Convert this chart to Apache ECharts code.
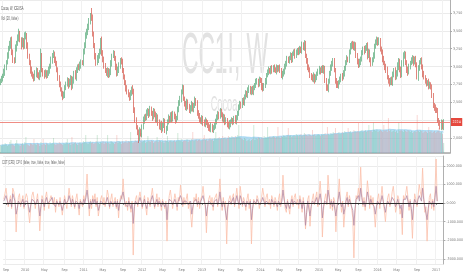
<!DOCTYPE html>
<html><head><meta charset="utf-8">
<script src="https://cdn.jsdelivr.net/npm/echarts@6/dist/echarts.min.js"></script>
<style>html,body{margin:0;padding:0;background:#fff}#c{width:466px;height:275px}</style>
</head><body><div id="c"></div>
<script>
// ---- data (weekly bars starting 2009-08-24) ----
const startDate = [2009, 7, 24];
const futureWeeks = 5;
const firstOpen = 2780;
const closes = [
2800,2830,2870,2920,2990,3060,3150,3250,3300,3370,
3200,3100,3080,3250,3320,3400,3460,3380,3300,3360,
3280,3420,3440,3300,3150,3050,2950,2900,2860,2830,
2900,2950,2880,2850,2900,3150,2950,2900,2880,2920,
2870,2910,2950,3000,3080,3150,3180,3100,3050,2950,
2850,2750,2680,2620,2580,2600,2700,2760,2800,2740,
2780,2840,2720,2800,2900,2850,2950,3000,2980,3020,
3060,3050,3200,3300,3420,3480,3560,3620,3700,3680,
3450,3300,3150,3050,3100,3150,3200,3380,3200,3100,
3000,2950,2900,2950,2880,2920,3050,3150,3180,3120,
3000,2900,2950,3020,3090,3060,2950,2850,2780,2700,
2650,2600,2570,2620,2680,2650,2400,2250,2150,2080,
2000,2100,2050,2150,2250,2300,2280,2350,2380,2330,
2400,2350,2290,2380,2330,2250,2300,2220,2150,2200,
2120,2180,2230,2100,2140,2220,2280,2250,2320,2260,
2340,2300,2250,2280,2400,2480,2550,2650,2700,2550,
2480,2420,2500,2450,2380,2420,2470,2400,2450,2520,
2500,2350,2300,2260,2230,2280,2220,2190,2240,2210,
2180,2150,2120,2170,2110,2140,2180,2230,2280,2340,
2300,2370,2330,2260,2300,2220,2250,2190,2160,2200,
2230,
2250,2220,2270,2240,2280,2350,2420,2480,2450,2520,
2500,2580,2630,2600,2660,2700,2650,2680,2640,2700,
2740,2780,2800,2760,2820,2800,2720,2690,2740,2800,
2880,2920,2950,2930,2970,2950,2990,2960,2940,2980,
2960,2990,2950,2870,2900,2920,3000,3050,3100,3080,
3120,3150,3100,3180,3200,3150,3210,3220,3200,3250,
3230,3300,3260,3320,3150,3080,3000,2950,2880,2850,
2820,2870,2810,2850,2900,2930,2960,2940,2970,2950,
2980,2800,2700,2690,2800,2900,2980,3050,3080,2950,
2800,2750,2730,2780,2820,2870,2850,2900,2980,3050,
3110,3100,3200,3280,3320,3300,3260,3310,3150,3080,
3020,3060,3100,3200,3240,3220,3260,3300,3150,3200,
3100,3050,3090,3150,3280,3350,3380,3330,3360,3250,
3200,3100,3050,3000,2950,2850,2800,2770,2820,2780,
2880,2950,2850,2900,3000,3080,2950,2880,3050,3150,
3180,3050,2950,2920,3000,3050,3080,3120,3060,3100,
3030,2850,2980,3060,3080,3000,2900,2850,2800,2760,
2780,2730,2750,2710,2600,2450,2420,2400,2380,2250,
2200,2160,2220,2150,2224];
const wickUp = [
30,40,30,50,40,30,50,40,60,40, 50,40,30,60,40,50,70,40,30,50,
40,60,50,30,40,30,40,50,30,40, 50,40,30,40,50,100,40,30,50,40,
30,40,50,40,60,40,50,30,40,30, 40,30,40,30,40,50,40,30,50,40,
50,40,30,60,40,50,40,30,40,50, 40,30,50,40,60,50,40,60,50,120,
50,40,30,40,60,40,50,20,40,30, 40,50,30,40,30,50,40,30,50,40,
30,40,50,40,30,40,50,30,40,30, 40,30,40,50,40,60,40,30,40,30,
40,50,30,40,50,30,40,50,40,30, 50,40,30,40,30,40,50,30,40,30,
40,30,50,40,30,40,50,30,40,50, 40,30,40,30,40,50,40,30,50,40,
30,40,50,40,30,40,50,30,40,60, 40,30,40,50,30,40,30,40,50,30,
40,30,40,50,30,40,30,40,50,40, 30,50,40,30,40,30,40,30,40,50,
30,40,30,40,50,40,30,50,40,30, 40,50,30,40,30,50,40,30,40,50,
40,30,50,40,30,40,30,40,50,30, 40,30,40,50,30,40,50,30,40,30,
50,40,30,40,30,40,50,40,30,50, 40,30,50,40,30,40,50,30,40,50,
40,30,50,40,50,40,30,40,30,40, 30,40,50,30,40,30,40,50,30,40,
50,40,30,40,50,30,40,50,30,40, 40,30,40,50,30,40,30,40,50,30,
40,50,30,40,50,30,40,50,40,30, 40,30,50,40,30,40,50,40,30,40,
50,40,30,40,50,40,30,40,30,50, 40,30,40,50,30,40,50,30,40,30,
40,50,30,40,50,60,40,30,50,40, 50,40,30,40,50,40,30,50,40,30,
40,50,30,40,30,40,50,30,40,30, 40,30,50,40,30,40,30,40,50,30,
40,30,50,40,30,40];
const wickDown = [
40,30,40,30,50,40,30,40,30,50, 40,50,40,30,40,30,50,40,60,30,
40,30,40,50,40,30,50,40,30,40, 30,50,40,30,40,50,30,40,50,30,
40,30,40,50,30,40,30,50,40,30, 50,40,30,40,50,30,40,30,40,50,
30,40,50,30,40,30,50,40,30,40, 50,30,40,30,40,30,40,50,30,40,
30,40,50,40,30,50,40,30,50,40, 30,40,30,50,40,30,40,50,30,40,
50,40,30,40,50,30,40,30,40,50, 40,30,50,40,30,40,50,40,30,40,
70,40,30,40,30,50,40,30,40,50, 30,40,50,30,40,30,40,50,30,40,
50,30,40,30,50,40,30,40,30,40, 30,40,50,40,30,40,30,50,40,30,
40,30,40,50,30,40,50,30,40,30, 50,40,30,40,30,40,50,30,40,30,
40,50,30,40,30,40,30,50,40,30, 40,30,40,30,50,40,30,40,30,40,
50,30,40,30,40,50,30,40,30,40, 30,40,50,40,30,40,30,40,50,30,
40,30,40,30,50,40,30,50,40,30, 40,50,30,40,30,40,50,30,40,30,
50,40,30,40,30,50,40,30,40,50, 30,40,30,50,40,30,40,30,50,40,
30,40,50,30,40,30,40,50,30,40, 40,30,40,50,30,40,30,40,50,30,
40,50,30,40,30,50,40,30,40,50, 30,40,50,30,40,30,40,50,30,40,
40,30,40,50,30,40,50,30,40,30, 50,40,30,40,30,40,50,30,40,50,
30,40,50,40,30,40,30,50,40,30, 40,30,40,30,50,40,30,40,50,30,
40,50,30,40,30,40,50,30,40,30, 50,40,30,40,50,30,40,30,40,50,
30,40,30,50,40,30,40,50,30,40, 40,30,50,40,30,40,30,40,50,30,
40,30,40,50,30,40];
const volumes = [
8,7,9,8,10,9,7,8,11,13, 9,8,7,10,13,9,8,7,9,10,
8,11,16,9,8,7,10,9,8,14, 9,8,10,9,7,11,8,14,9,8,
10,9,8,11,9,10,15,9,8,10, 9,11,10,9,8,10,9,11,14,9,
10,8,16,9,10,11,9,8,10,11, 9,10,12,11,18,10,9,11,12,10,
11,9,10,12,18,10,9,11,10,12, 9,11,10,18,10,9,12,11,10,9,
11,18,10,12,11,9,12,10,11,13, 10,12,11,21,12,10,11,13,12,11,
12,10,20,11,12,13,10,11,17,12, 11,13,12,10,11,12,16,11,13,12,
11,12,10,13,12,17,11,12,13,11, 12,13,11,12,20,13,12,14,11,12,
13,12,14,11,13,12,14,21,12,13, 14,12,13,14,12,13,15,18,13,14,
12,14,15,13,14,12,15,21,14,15, 16,14,15,17,15,16,14,15,17,16,
15,17,16,15,17,16,18,28,16,15, 14,13,15,14,12,13,14,12,13,14,
28,13,15,14,16,15,14,16,15,17, 16,15,26,16,17,15,16,17,16,15,
17,26,16,15,17,16,18,17,16,18, 25,17,18,16,17,18,17,19,18,17,
18,19,17,18,20,19,18,17,19,18, 17,23,18,19,17,18,19,18,17,19,
18,19,20,18,26,19,18,20,19,21, 20,25,19,20,21,19,20,21,20,22,
21,20,25,21,22,20,21,23,22,21, 22,30,21,22,23,21,22,23,21,22,
28,22,23,21,31,23,22,24,21,22, 23,22,21,28,22,23,21,35,22,23,
21,22,23,21,22,20,31,22,23,22, 21,23,22,21,23,22,21,22,20,21,
22,21,38,22,21,23,22,20,21,22, 21,20,26,21,22,20,21,22,20,21,
22,25,20,21,19,10];
const cotOrange = [
200,500,800,300,-200,100,400,-300,800,600, 200,-1560,-400,300,500,-200,100,400,-300,200,
500,300,-500,-1070,-200,400,600,200,-300,100, 500,-200,-1500,-300,400,200,-400,300,600,100,
-300,200,400,500,-100,300,-500,200,100,-200, 300,-100,-650,-200,400,100,-300,200,800,300,
-200,400,100,-300,200,500,-100,-650,200,300, -200,400,100,600,1560,300,-700,200,-300,400,
100,500,-200,300,-700,-300,200,400,-100,300, -200,100,700,400,-300,200,500,-200,100,300,
-300,200,-800,100,400,200,1300,300,-200,100, -400,300,200,-500,100,-2800,-300,200,400,-200,
300,600,200,-300,100,400,-200,-650,300,100, -200,400,800,200,-300,100,500,-200,300,100,
-400,200,300,-300,100,-2050,-200,400,700,200, -300,100,500,200,-400,300,100,970,400,-200,
300,-100,200,500,-300,100,200,-1300,-400,300, 100,500,-200,300,-300,200,400,900,300,-200,
-1600,-300,200,400,-100,300,-400,200,100,500, -200,300,1300,200,-400,300,-200,100,-2200,-300,
200,400,-100,300,500,-200,300,800,200,-300, 900,400,-200,300,100,-400,200,500,-300,200,
-2200,-400,200,300,-100,400,200,-300,100,300, 800,400,-200,300,500,-100,200,-300,400,200,
-200,300,100,-400,200,500,-200,300,1500,400, -300,-500,200,300,-600,100,400,-200,300,500,
-100,200,-300,400,100,-500,300,-200,-1400,-600, 200,400,-1250,-300,200,500,-100,300,600,-200,
400,1180,300,-1830,-400,200,500,-100,1500,600, -300,200,-400,300,100,-1550,-300,400,1300,200,
-500,100,-1300,-500,300,600,-200,400,100,-300, -800,-2950,-600,400,200,800,300,1930,500,-200,
300,-400,200,1200,600,-300,400,-100,300,-500, -1300,-400,200,500,-300,300,900,200,-400,-1000,
-200,300,500,-200,100,600,900,300,-500,-200, 400,200,-600,-300,-1700,400,200,500,900,300,
-400,200,-600,-1900,-300,500,200,-200,400,1000, 600,300,1880,400,-500,-200,-2050,-600,300,500,
-300,200,-400,600,2370,100];
const cotPurple = [
100,200,400,300,-100,0,200,-200,500,300, 100,-600,-300,100,200,-100,0,200,-200,100,
200,100,-200,-500,-100,200,300,100,-100,0, 200,-100,-700,-200,200,100,-200,100,300,0,
-100,100,200,300,0,100,-200,100,0,-100, 100,0,-400,-100,200,0,-100,100,400,200,
-100,200,0,-200,100,200,0,-300,100,100, -100,200,0,300,700,200,-300,100,-100,200,
0,200,-100,100,-400,-200,100,200,0,100, -100,0,300,200,-200,100,200,-100,0,100,
-200,100,-400,0,200,100,600,200,-100,0, -200,100,100,-300,0,-1100,-200,100,200,-100,
100,300,100,-200,0,200,-100,-300,100,0, -100,200,400,100,-200,0,200,-100,100,0,
-200,100,100,-200,0,-900,-100,200,300,100, -100,0,200,100,-200,100,0,400,200,-100,
100,0,100,200,-100,0,100,-600,-200,100, 0,200,-100,100,-100,100,200,400,100,-100,
-700,-200,100,200,0,100,-200,100,0,200, -100,100,600,100,-200,100,-100,0,-900,-200,
100,200,0,100,300,-100,100,400,100,-100, 400,200,-100,100,0,-200,100,200,-100,100,
-900,-300,100,200,0,200,100,-100,0,100, 300,200,-100,100,200,0,100,-100,200,100,
-100,100,0,-200,100,200,-100,100,700,200, -100,-300,100,100,-300,0,200,-100,100,200,
0,100,-100,200,0,-300,100,-200,-1200,-500, 100,200,-700,-200,100,200,0,100,300,-100,
200,500,100,-800,-200,100,200,0,700,300, -100,100,-200,100,0,-700,-200,200,600,100,
-200,0,-600,-300,100,300,-100,200,0,-100, -400,-1200,-300,200,100,400,100,800,300,-100,
100,-200,100,600,300,-100,200,0,100,-200, -600,-200,100,200,-100,100,400,100,-200,-500,
-100,100,200,-100,0,300,400,100,-200,-100, 200,100,-300,-100,-800,200,100,200,400,100,
-200,100,-300,-900,-100,200,100,-100,200,400, 300,100,800,200,-200,-100,-900,-300,100,200,
-100,100,-200,300,900,100];
// x tick rule: first weekly bar of these months; month 0 shows the year
const tickMonths = [[0, 'year'], [4, 'May'], [8, 'Sep']];

// ---- build ----
const DAY = 86400000;
const t0 = Date.UTC(startDate[0], startDate[1], startDate[2]);
const nCat = closes.length + futureWeeks;
const dates = [];
for (let i = 0; i < nCat; i++) dates.push(new Date(t0 + i * 7 * DAY));
const cats = dates.map(d => d.toISOString().slice(0, 10));
function tickLabel(i) {
  const m = dates[i].getUTCMonth();
  const hit = tickMonths.find(t => t[0] === m);
  if (!hit) return '';
  if (i > 0 && dates[i - 1].getUTCMonth() === m) return '';
  return hit[1] === 'year' ? String(dates[i].getUTCFullYear()) : hit[1];
}
const isTick = (i) => tickLabel(i) !== '';

const candles = [], volBars = [];
for (let i = 0; i < closes.length; i++) {
  const o = i === 0 ? firstOpen : closes[i - 1];
  const c = closes[i];
  candles.push([o, c, Math.min(o, c) - wickDown[i], Math.max(o, c) + wickUp[i]]);
  volBars.push({ value: volumes[i], itemStyle: { color: c >= o ? 'rgba(90,180,120,0.28)' : 'rgba(235,110,100,0.28)' } });
}
// 20-period moving average of volume (indicator "Vol (20)")
const volMA = volumes.map((v, i) => {
  const s = Math.max(0, i - 19); let sum = 0;
  for (let k = s; k <= i; k++) sum += volumes[k];
  return +(sum / (i - s + 1)).toFixed(2);
});
const lastClose = closes[closes.length - 1];

const FONT = "'Liberation Sans Narrow','DejaVu Sans Condensed','Liberation Sans',sans-serif";
const labelStyle = { fontSize: 3.6, color: '#777', fontFamily: FONT };

const chart = echarts.init(document.getElementById('c'), null, { renderer: 'canvas' });
chart.setOption({
  animation: false,
  backgroundColor: '#fff',
  grid: [
    { left: 0, right: 16, top: 0, height: 153 },
    { left: 0, right: 16, top: 156, height: 108 }
  ],
  xAxis: [
    { type: 'category', gridIndex: 0, data: cats, boundaryGap: true,
      axisLine: { show: true, lineStyle: { color: '#a8a8a8', width: 1.5 } },
      axisTick: { show: false }, axisLabel: { show: false },
      splitLine: { show: true, interval: (i) => isTick(i), lineStyle: { color: '#f1f1f1', width: 1 } } },
    { type: 'category', gridIndex: 1, data: cats, boundaryGap: true,
      axisLine: { show: true, lineStyle: { color: '#9a9a9a', width: 1 } },
      axisTick: { show: true, alignWithLabel: true, interval: (i) => isTick(i), length: 2, lineStyle: { color: '#999' } },
      axisLabel: Object.assign({ interval: (i) => isTick(i), formatter: (v, i) => tickLabel(i), margin: 4 }, labelStyle),
      splitLine: { show: true, interval: (i) => isTick(i), lineStyle: { color: '#f1f1f1', width: 1 } } }
  ],
  yAxis: [
    { type: 'value', gridIndex: 0, position: 'right', min: 1790, max: 3932, minInterval: 250, maxInterval: 250,
      axisLine: { show: true, lineStyle: { color: '#b0b0b0' } },
      axisTick: { show: true, length: 2, lineStyle: { color: '#aaa' } },
      axisLabel: Object.assign({ showMinLabel: false, showMaxLabel: false, margin: 3 }, labelStyle),
      splitLine: { show: true, lineStyle: { color: '#ebebeb', width: 1 } } },
    { type: 'value', gridIndex: 0, min: 0, max: 153, show: false, splitLine: { show: false } },
    { type: 'value', gridIndex: 1, position: 'right', min: -3280, max: 2530, minInterval: 1000, maxInterval: 1000,
      axisLine: { show: true, lineStyle: { color: '#b0b0b0' } },
      axisTick: { show: true, length: 2, lineStyle: { color: '#aaa' } },
      axisLabel: Object.assign({ showMinLabel: false, showMaxLabel: false, margin: 3, formatter: (v) => v.toFixed(3) }, labelStyle),
      splitLine: { show: true, lineStyle: { color: '#ebebeb', width: 1 } } }
  ],
  graphic: [
    { type: 'text', x: 225, y: 57.5, scaleX: 0.4, z: 0, silent: true,
      style: { text: 'CC1!, W', fontSize: 57, fontFamily: "'Liberation Sans',sans-serif", fill: '#e2e2e2', align: 'center', verticalAlign: 'middle' } },
    { type: 'text', x: 224, y: 105, scaleX: 0.42, z: 0, silent: true,
      style: { text: 'Cocoa', fontSize: 22, fontFamily: "'Liberation Sans',sans-serif", fill: '#e2e2e2', align: 'center', verticalAlign: 'middle' } },
    { type: 'text', x: 1, y: 8.5, scaleX: 0.58, z: 10, silent: true,
      style: { text: 'Cocoa, W, ICEUSA', fontSize: 4.5, fontFamily: "'Liberation Sans',sans-serif", fill: '#555', align: 'left', verticalAlign: 'middle' } },
    { type: 'text', x: 1, y: 19, scaleX: 0.63, z: 10, silent: true,
      style: { text: 'Vol (20, false)', fontSize: 4.5, fontFamily: "'Liberation Sans',sans-serif", fill: '#666', align: 'left', verticalAlign: 'middle' } },
    { type: 'text', x: 2, y: 163, scaleX: 0.61, z: 10, silent: true,
      style: { text: 'COT(CFD) CP 0 (false, true, false, true, false, false)', fontSize: 4.5, fontFamily: "'Liberation Sans',sans-serif", fill: '#666', align: 'left', verticalAlign: 'middle' } }
  ],
  series: [
    { type: 'bar', name: 'Volume', xAxisIndex: 0, yAxisIndex: 1, data: volBars, barWidth: '70%', z: 1, silent: true },
    { type: 'line', name: 'Vol MA', xAxisIndex: 0, yAxisIndex: 1, data: volMA, symbol: 'none', z: 1, silent: true,
      lineStyle: { width: 0.6, color: '#8ccbef' }, areaStyle: { color: 'rgba(140,203,238,0.9)', origin: 'start' } },
    { type: 'candlestick', name: 'CC1!', xAxisIndex: 0, yAxisIndex: 0, data: candles, barWidth: 0.6, z: 3, silent: true,
      itemStyle: { color: '#46a06a', color0: '#d04638', borderColor: '#46a06a', borderColor0: '#d04638', borderWidth: 0.65 },
      markLine: { symbol: 'none', silent: true, animation: false,
        data: [{ yAxis: lastClose }],
        lineStyle: { color: 'rgba(236,120,110,0.85)', width: 1, type: 'solid' },
        label: { position: 'end', distance: 1, formatter: String(lastClose), color: '#fff', backgroundColor: '#e5483d',
          fontSize: 3.6, fontFamily: FONT, padding: [2, 1.5] } } },
    { type: 'line', name: 'COT A', xAxisIndex: 1, yAxisIndex: 2, data: cotOrange, symbol: 'none', z: 2, silent: true,
      lineStyle: { width: 0.8, color: '#fbc0ab' } },
    { type: 'line', name: 'COT B', xAxisIndex: 1, yAxisIndex: 2, data: cotPurple, symbol: 'none', z: 3, silent: true,
      lineStyle: { width: 0.8, color: '#b48ba6' },
      markLine: { symbol: 'none', silent: true, animation: false, data: [{ yAxis: 0 }], label: { show: false },
        lineStyle: { color: '#2b2b2b', width: 1.2, type: 'solid' } } }
  ]
});
</script>
</body></html>
